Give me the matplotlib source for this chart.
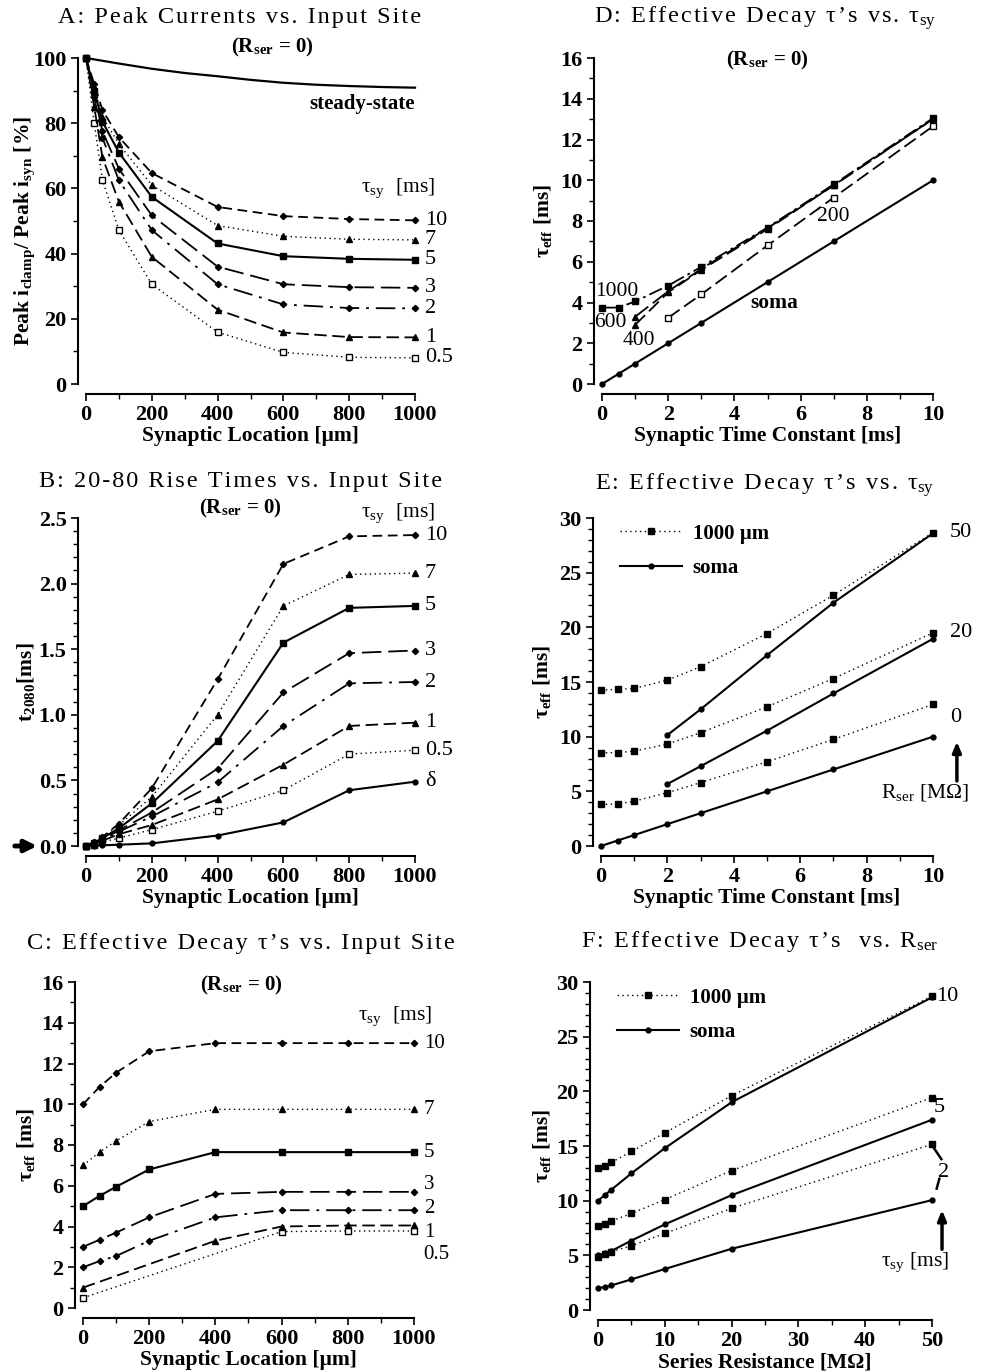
import matplotlib
matplotlib.use("Agg")
import matplotlib.pyplot as plt
from matplotlib.ticker import MultipleLocator, FormatStrFormatter

plt.rcParams["font.family"] = ["Liberation Serif", "DejaVu Serif"]
plt.rcParams["mathtext.fontset"] = "stix"
plt.rcParams["lines.scale_dashes"] = False

# ---- A: peak currents vs input site (R_ser = 0) ----
pos_ss = [0, 100, 200, 300, 400, 500, 600, 700, 800, 900, 1000]
peak_ss = [100, 98.3, 96.7, 95.4, 94.4, 93.3, 92.4, 91.8, 91.4, 91.1, 90.9]
pos_a = [0, 25, 50, 100, 200, 400, 600, 800, 1000]
peak_10 = [100, 92, 84, 75.7, 64.7, 54.3, 51.5, 50.6, 50.2]
peak_7 = [100, 91, 82, 73.6, 61.0, 48.6, 45.3, 44.4, 44.2]
peak_5 = [100, 90, 80.5, 71.0, 57.4, 43.1, 39.2, 38.4, 38.1]
peak_3 = [100, 89, 77.5, 66.0, 51.7, 36.0, 30.6, 29.7, 29.5]
peak_2 = [100, 88, 75.5, 62.5, 47.2, 30.6, 24.4, 23.3, 23.2]
peak_1 = [100, 85, 69.5, 55.9, 39.0, 22.8, 15.8, 14.4, 14.3]
peak_05 = [100, 80, 62.5, 47.2, 30.6, 15.9, 9.7, 8.2, 8.0]

# ---- B: 20-80 rise times vs input site ----
pos_b = [0, 25, 50, 100, 200, 400, 600, 800, 1000]
rise_10 = [0, 0.03, 0.07, 0.17, 0.44, 1.27, 2.15, 2.36, 2.37]
rise_7 = [0, 0.03, 0.065, 0.16, 0.375, 1.0, 1.83, 2.07, 2.08]
rise_5 = [0, 0.025, 0.06, 0.135, 0.325, 0.8, 1.55, 1.815, 1.83]
rise_3 = [0, 0.02, 0.05, 0.12, 0.255, 0.59, 1.17, 1.47, 1.49]
rise_2 = [0, 0.02, 0.045, 0.11, 0.225, 0.485, 0.915, 1.24, 1.25]
rise_1 = [0, 0.015, 0.04, 0.09, 0.16, 0.355, 0.62, 0.915, 0.94]
rise_05 = [0, 0.01, 0.03, 0.06, 0.125, 0.265, 0.425, 0.70, 0.73]
rise_delta = [0, 0.002, 0.005, 0.01, 0.02, 0.08, 0.18, 0.425, 0.49]

# ---- C: effective decay tau vs input site ----
pos_c = [0, 50, 100, 200, 400, 600, 800, 1000]
decay_10 = [10.0, 10.85, 11.55, 12.6, 13.0, 13.0, 13.0, 13.0]
decay_7 = [7.0, 7.65, 8.2, 9.15, 9.75, 9.75, 9.75, 9.75]
decay_5 = [5.0, 5.5, 5.95, 6.8, 7.65, 7.65, 7.65, 7.65]
decay_3 = [3.0, 3.35, 3.7, 4.45, 5.6, 5.7, 5.7, 5.7]
decay_2 = [2.0, 2.3, 2.55, 3.3, 4.45, 4.8, 4.8, 4.8]
pos_c1 = [0, 400, 600, 800, 1000]
decay_1 = [1.0, 3.3, 4.0, 4.05, 4.05]
pos_c05 = [0, 600, 800, 1000]
decay_05 = [0.5, 3.75, 3.78, 3.78]

# ---- D: effective decay tau vs tau_sy (R_ser = 0) ----
tau_d = [0, 0.5, 1, 2, 3, 5, 7, 10]
d_soma = [0, 0.5, 1, 2, 3, 5, 7, 10]
d_1000 = [3.75, 3.75, 4.05, 4.83, 5.75, 7.68, 9.8, 13.05]
tau_d_mid = [1, 2, 3, 5, 7, 10]
d_600 = [3.3, 4.55, 5.65, 7.65, 9.75, 13.0]
d_400 = [2.9, 4.5, 5.6, 7.6, 9.75, 13.0]
tau_d200 = [2, 3, 5, 7, 10]
d_200 = [3.25, 4.4, 6.8, 9.15, 12.65]

# ---- E: effective decay tau vs tau_sy for R_ser = 0, 20, 50 ----
tau_e = [0, 0.5, 1, 2, 3, 5, 7, 10]
tau_e_soma = [2, 3, 5, 7, 10]
e_far_0 = [3.8, 3.84, 4.1, 4.87, 5.8, 7.7, 9.75, 12.95]
e_soma_0 = [0, 0.5, 1, 2, 3, 5, 7, 10]
e_far_20 = [8.53, 8.53, 8.68, 9.32, 10.36, 12.73, 15.32, 19.5]
e_soma_20 = [5.67, 7.3, 10.55, 13.95, 18.95]
e_far_50 = [14.26, 14.32, 14.41, 15.17, 16.4, 19.43, 22.94, 28.66]
e_soma_50 = [10.15, 12.5, 17.45, 22.25, 28.6]
rser_levels = ["50", "20", "0"]

# ---- F: effective decay tau vs R_ser ----
rser = [0, 1, 2, 5, 10, 20, 50]
f_far_10 = [12.95, 13.2, 13.5, 14.5, 16.2, 19.6, 28.7]
f_soma_10 = [10.0, 10.5, 11.0, 12.5, 14.8, 19.0, 28.6]
f_far_5 = [7.68, 7.86, 8.13, 8.83, 10.1, 12.75, 19.43]
f_soma_5 = [5.0, 5.18, 5.4, 6.35, 7.83, 10.5, 17.4]
f_far_2 = [4.87, 5.1, 5.33, 5.88, 7.0, 9.3, 15.15]
f_soma_2 = [2.0, 2.1, 2.25, 2.8, 3.75, 5.6, 10.05]

tau_labels = ["10", "7", "5", "3", "2", "1", "0.5"]

W, H = 981, 1372
K = "black"
S10 = dict(color=K, lw=1.3, dashes=(7, 4), marker="D", ms=3.2)
S7 = dict(color=K, lw=1.0, dashes=(1, 2.5), marker="^", ms=4.5)
S5 = dict(color=K, lw=1.5, ls="-", marker="s", ms=4)
S3 = dict(color=K, lw=1.3, dashes=(14, 5), marker="D", ms=3.2)
S2 = dict(color=K, lw=1.3, dashes=(14, 5, 2, 5), marker="D", ms=3.2)
S1 = dict(color=K, lw=1.3, dashes=(9, 4), marker="^", ms=4.5)
S05 = dict(color=K, lw=1.0, dashes=(1, 2.5), marker="s", ms=3.8, mfc="white", mew=1.0)
SOL = dict(color=K, lw=1.5, ls="-", marker="o", ms=3.5)
DOT = dict(color=K, lw=1.0, dashes=(1, 2.5), marker="s", ms=4.5)

LABF = dict(fontsize=15.5, fontweight="bold")
TITF = dict(fontsize=17.5, ha="center", va="center")
SUBF = dict(fontsize=15, fontweight="bold", ha="center", va="center")
HAIR = "\u200a"


def spaced(s):
    # the original titles are set with wide letter spacing
    return HAIR.join(s)


def rect(x0, x1, ytop, ybot):
    return [x0 / W, 1 - ybot / H, (x1 - x0) / W, (ybot - ytop) / H]


def frame(ax, xlim, ylim, xmaj, xmin, ymaj, ymin, yfmt=None):
    ax.set_xlim(xlim)
    ax.set_ylim(ylim)
    for s in ("top", "right"):
        ax.spines[s].set_visible(False)
    ax.spines["left"].set_position(("outward", 6))
    ax.spines["bottom"].set_position(("outward", 7))
    ax.spines["left"].set_linewidth(1.5)
    ax.spines["bottom"].set_linewidth(1.5)
    ax.xaxis.set_major_locator(MultipleLocator(xmaj))
    ax.xaxis.set_minor_locator(MultipleLocator(xmin))
    ax.yaxis.set_major_locator(MultipleLocator(ymaj))
    ax.yaxis.set_minor_locator(MultipleLocator(ymin))
    if yfmt:
        ax.yaxis.set_major_formatter(FormatStrFormatter(yfmt))
    ax.tick_params(which="major", length=5, width=1.2, pad=3)
    ax.tick_params(which="minor", length=3.5, width=1)
    for lab in ax.get_xticklabels() + ax.get_yticklabels():
        lab.set_fontsize(16)
        lab.set_fontweight("bold")


def line(ax, x, y, st):
    return ax.plot(x, y, clip_on=False, **st)[0]


def end_labels(ax, xs, ys, labels, dy=None, size=16):
    for i, (y, lab) in enumerate(zip(ys, labels)):
        off = 0 if dy is None else dy[i]
        ax.annotate(lab, (xs, y), xytext=(7, off), textcoords="offset points",
                    ha="left", va="center", fontsize=size, annotation_clip=False)


def legend_pair(ax, h_far, h_soma):
    ax.legend([h_far, h_soma], ["1000 µm", "soma"], loc="upper left",
              bbox_to_anchor=(0.0, 1.04), frameon=False, handlelength=3.0,
              handletextpad=0.5, labelspacing=0.7, prop=dict(size=15, weight="bold"))


fig = plt.figure(figsize=(W / 100, H / 100), dpi=100)

# ---------------- A ----------------
ax = fig.add_axes(rect(86, 415, 58, 384))
line(ax, pos_ss, peak_ss, dict(color=K, lw=1.6, ls="-"))
line(ax, pos_a, peak_05, S05)
line(ax, pos_a, peak_1, S1)
line(ax, pos_a, peak_2, S2)
line(ax, pos_a, peak_3, S3)
line(ax, pos_a, peak_5, S5)
line(ax, pos_a, peak_7, S7)
line(ax, pos_a, peak_10, S10)
frame(ax, (0, 1000), (0, 100), 200, 100, 20, 10)
end_labels(ax, 1000, [peak_10[-1], peak_7[-1], peak_5[-1], peak_3[-1],
                      peak_2[-1], peak_1[-1], peak_05[-1]], tau_labels)
ax.text(1000, 86, "steady-state", ha="right", va="center", fontsize=15, fontweight="bold")
ax.text(1060, 60, r"τ$_{\mathregular{sy}}$  [ms]", ha="right", va="center", fontsize=15.5)
ax.set_xlabel("Synaptic Location [µm]", labelpad=1, **LABF)
ax.set_ylabel(r"Peak i$_{\mathregular{clamp}}$/ Peak i$_{\mathregular{syn}}$ [%]", **LABF)
ax.yaxis.set_label_coords(-0.15, 0.47)
fig.text(240 / W, 1 - 18 / H, spaced("A: Peak Currents vs. Input Site"), **TITF)
fig.text(272 / W, 1 - 47 / H, r"(R$_{\mathregular{ser}}$ = 0)", **SUBF)

# ---------------- B ----------------
ax = fig.add_axes(rect(86, 415, 518, 846))
line(ax, pos_b, rise_delta, SOL)
line(ax, pos_b, rise_05, S05)
line(ax, pos_b, rise_1, S1)
line(ax, pos_b, rise_2, S2)
line(ax, pos_b, rise_3, S3)
line(ax, pos_b, rise_5, S5)
line(ax, pos_b, rise_7, S7)
line(ax, pos_b, rise_10, S10)
frame(ax, (0, 1000), (0, 2.5), 200, 100, 0.5, 0.1, "%.1f")
end_labels(ax, 1000, [rise_10[-1], rise_7[-1], rise_5[-1], rise_3[-1], rise_2[-1],
                      rise_1[-1], rise_05[-1], rise_delta[-1]], tau_labels + ["δ"])
ax.text(1060, 2.54, r"τ$_{\mathregular{sy}}$  [ms]", ha="right", va="center", fontsize=15.5)
ax.annotate("", xy=(-0.14, 0), xytext=(-0.225, 0), xycoords=("axes fraction", "data"),
            arrowprops=dict(arrowstyle="-|>,head_length=0.7,head_width=0.35", lw=3.5, color=K),
            annotation_clip=False)
ax.set_xlabel("Synaptic Location [µm]", labelpad=1, **LABF)
ax.set_ylabel(r"t$_{\mathregular{2080}}$[ms]", **LABF)
ax.yaxis.set_label_coords(-0.15, 0.5)
fig.text(241 / W, 1 - 481 / H, spaced("B: 20-80 Rise Times vs. Input Site"), **TITF)
fig.text(240 / W, 1 - 508 / H, r"(R$_{\mathregular{ser}}$ = 0)", **SUBF)

# ---------------- C ----------------
ax = fig.add_axes(rect(83, 414, 982, 1308))
line(ax, pos_c05, decay_05, S05)
line(ax, pos_c1, decay_1, S1)
line(ax, pos_c, decay_2, S2)
line(ax, pos_c, decay_3, S3)
line(ax, pos_c, decay_5, S5)
line(ax, pos_c, decay_7, S7)
line(ax, pos_c, decay_10, S10)
frame(ax, (0, 1000), (0, 16), 200, 100, 2, 1)
end_labels(ax, 1000, [decay_10[-1], decay_7[-1], decay_5[-1], decay_3[-1],
                      decay_2[-1], decay_1[-1], decay_05[-1]], tau_labels,
           dy=[0, 0, 0, 5, 1, -5, -17], size=15)
ax.text(1055, 14.3, r"τ$_{\mathregular{sy}}$  [ms]", ha="right", va="center", fontsize=15.5)
ax.set_xlabel("Synaptic Location [µm]", labelpad=1, **LABF)
ax.set_ylabel(r"τ$_{\mathregular{eff}}$ [ms]", **LABF)
ax.yaxis.set_label_coords(-0.14, 0.5)
fig.text(241 / W, 1 - 943 / H, spaced("C: Effective Decay τ’s vs. Input Site"), **TITF)
fig.text(241 / W, 1 - 985 / H, r"(R$_{\mathregular{ser}}$ = 0)", **SUBF)

# ---------------- D ----------------
ax = fig.add_axes(rect(602, 933, 58, 384))
line(ax, tau_d, d_soma, SOL)
line(ax, tau_d200, d_200, dict(S3, dashes=(10, 4), marker="s", mfc="white", ms=4))
line(ax, tau_d_mid, d_400, dict(S1, dashes=(10, 4)))
line(ax, tau_d_mid, d_600, dict(S1, dashes=(12, 4)))
line(ax, tau_d, d_1000, dict(S2, dashes=(10, 3, 2, 3), marker="s", ms=4))
frame(ax, (0, 10), (0, 16), 2, 1, 2, 1)
ax.text(0.45, 4.55, "1000", ha="center", va="center", fontsize=15.5)
ax.text(0.25, 3.0, "600", ha="center", va="center", fontsize=15.5)
ax.text(1.1, 2.15, "400", ha="center", va="center", fontsize=15.5)
ax.text(7.0, 8.2, "200", ha="center", va="center", fontsize=15.5)
ax.text(5.2, 4.0, "soma", ha="center", va="center", fontsize=15.5, fontweight="bold")
ax.set_xlabel("Synaptic Time Constant [ms]", labelpad=1, **LABF)
ax.set_ylabel(r"τ$_{\mathregular{eff}}$ [ms]", **LABF)
ax.yaxis.set_label_coords(-0.145, 0.5)
fig.text(765 / W, 1 - 18 / H, spaced("D: Effective Decay τ’s vs. τ") + r"$_{\mathregular{sy}}$", **TITF)
fig.text(767 / W, 1 - 60 / H, r"(R$_{\mathregular{ser}}$ = 0)", **SUBF)

# ---------------- E ----------------
ax = fig.add_axes(rect(601, 933, 518, 846))
h_far = line(ax, tau_e, e_far_0, DOT)
h_soma = line(ax, tau_e, e_soma_0, SOL)
line(ax, tau_e, e_far_20, DOT)
line(ax, tau_e_soma, e_soma_20, SOL)
line(ax, tau_e, e_far_50, DOT)
line(ax, tau_e_soma, e_soma_50, SOL)
frame(ax, (0, 10), (0, 30), 2, 1, 5, 1)
for lab, y in zip(rser_levels, [e_far_50[-1], e_far_20[-1], e_far_0[-1] - 1.2]):
    ax.annotate(lab, (10, y), xytext=(12, 0), textcoords="offset points",
                ha="left", va="center", fontsize=16, annotation_clip=False)
ax.annotate("", xy=(10.72, 9.8), xytext=(10.72, 5.7),
            arrowprops=dict(arrowstyle="-|>,head_length=0.6,head_width=0.25", lw=2.5, color=K),
            annotation_clip=False)
ax.text(9.75, 4.9, r"R$_{\mathregular{ser}}$ [MΩ]", ha="center", va="center", fontsize=15.5)
legend_pair(ax, h_far, h_soma)
ax.set_xlabel("Synaptic Time Constant [ms]", labelpad=1, **LABF)
ax.set_ylabel(r"τ$_{\mathregular{eff}}$ [ms]", **LABF)
ax.yaxis.set_label_coords(-0.145, 0.5)
fig.text(765 / W, 1 - 485 / H, spaced("E: Effective Decay τ’s vs. τ") + r"$_{\mathregular{sy}}$", **TITF)

# ---------------- F ----------------
ax = fig.add_axes(rect(598, 932, 982, 1310))
h_far = line(ax, rser, f_far_10, DOT)
h_soma = line(ax, rser, f_soma_10, SOL)
line(ax, rser, f_far_5, DOT)
line(ax, rser, f_soma_5, SOL)
line(ax, rser, f_far_2, DOT)
line(ax, rser, f_soma_2, SOL)
frame(ax, (0, 50), (0, 30), 10, 5, 5, 1)
ax.text(50.6, f_far_10[-1], "10", ha="left", va="center", fontsize=16)
ax.text(50.3, 18.5, "5", ha="left", va="center", fontsize=16)
ax.text(51.7, 12.6, "2", ha="center", va="center", fontsize=16)
ax.plot([50.3, 51.4], [14.8, 13.8], color=K, lw=1.8, clip_on=False)
ax.plot([50.7, 51.1], [11.1, 12.0], color=K, lw=1.8, clip_on=False)
ax.annotate("", xy=(51.5, 9.4), xytext=(51.5, 5.3),
            arrowprops=dict(arrowstyle="-|>,head_length=0.6,head_width=0.25", lw=2.5, color=K),
            annotation_clip=False)
ax.text(47.5, 4.4, r"τ$_{\mathregular{sy}}$ [ms]", ha="center", va="center", fontsize=15.5)
legend_pair(ax, h_far, h_soma)
ax.set_xlabel("Series Resistance [MΩ]", labelpad=1, **LABF)
ax.set_ylabel(r"τ$_{\mathregular{eff}}$ [ms]", **LABF)
ax.yaxis.set_label_coords(-0.135, 0.5)
fig.text(760 / W, 1 - 942 / H, spaced("F: Effective Decay τ’s  vs. R") + r"$_{\mathregular{ser}}$", **TITF)

fig.savefig("out.png", dpi=100)
